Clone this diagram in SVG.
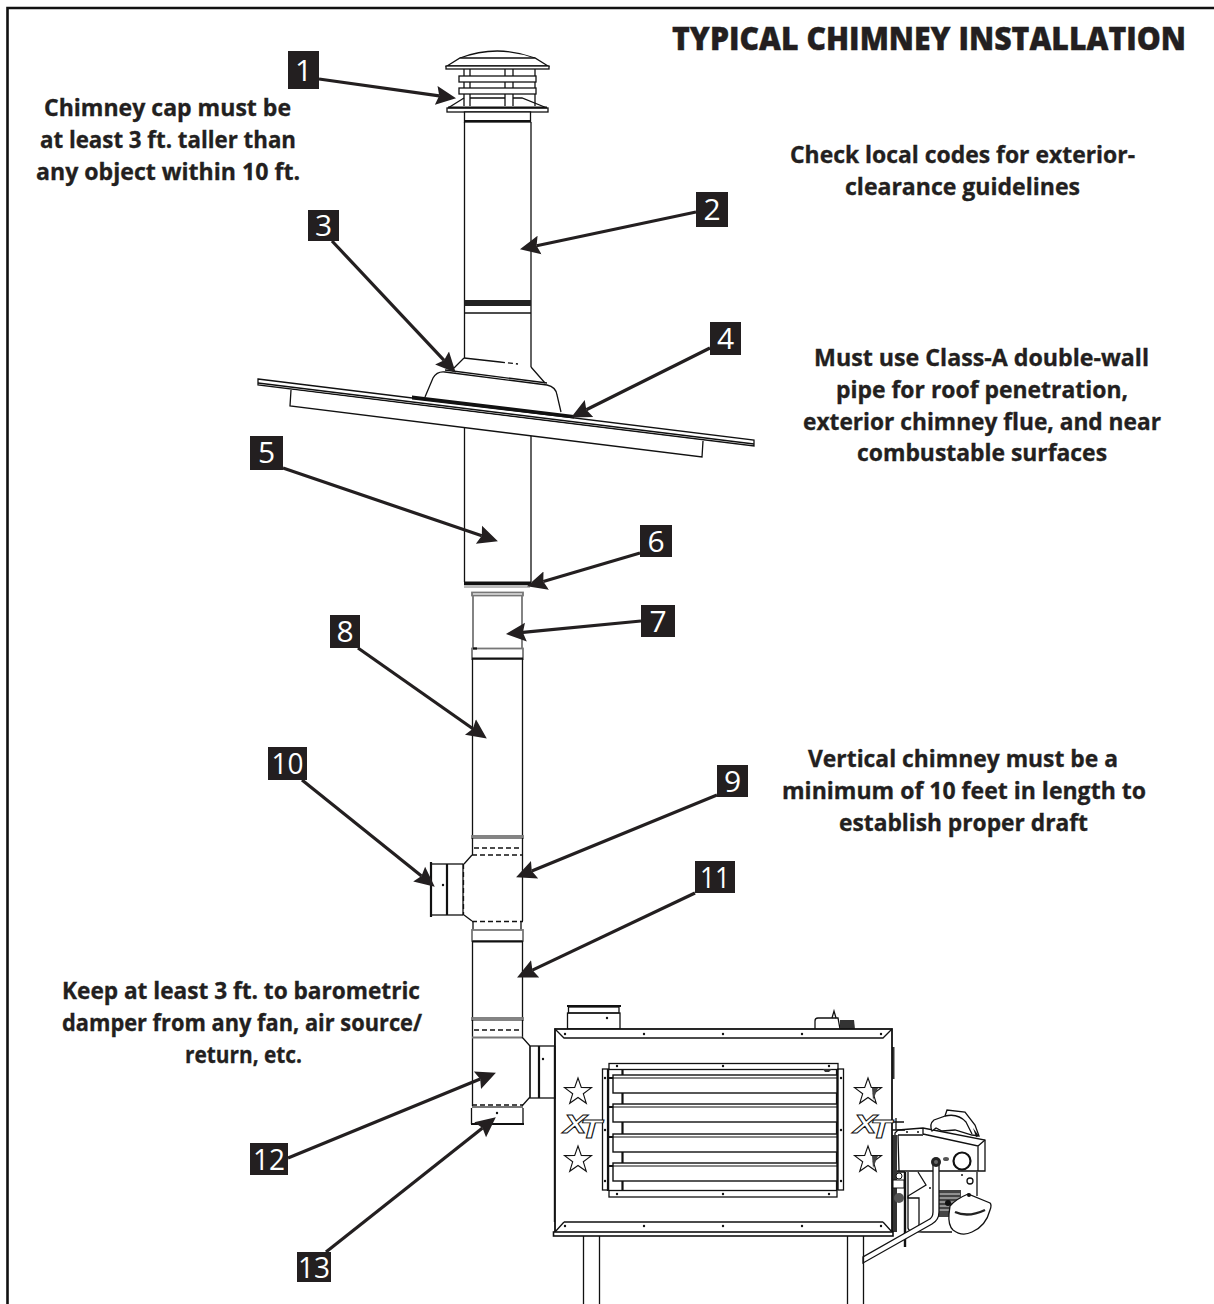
<svg xmlns="http://www.w3.org/2000/svg" width="1214" height="1304" viewBox="0 0 1214 1304">
<defs>
<marker id="ah" markerUnits="userSpaceOnUse" markerWidth="30" markerHeight="26" refX="3" refY="13" orient="auto">
<path d="M0,3.500 L20,13 L0,22.500 L3,13 Z" fill="#231f20"/>
</marker>
<polygon id="star" points="0,-14 3.3,-4.500 13.500,-4.400 5.300,1.700 8.300,11.300 0,5.500 -8.300,11.300 -5.300,1.700 -13.500,-4.400 -3.300,-4.500" fill="#fff" stroke="#111" stroke-width="1.100"/>
<g id="louver">
<rect x="613" y="0" width="224" height="18" fill="#fff" stroke="#111" stroke-width="1.400"/>
<line x1="613" y1="3" x2="837" y2="3" stroke="#111" stroke-width="1"/>
</g>
</defs>
<style>
.n{font-family:"Open Sans","Noto Sans",sans-serif;font-weight:700;font-size:23.500px;fill:#231f20;stroke:#231f20;stroke-width:.35px;}
.t{font-family:"Open Sans","Noto Sans",sans-serif;font-weight:800;font-size:31.500px;fill:#231f20;stroke:#231f20;stroke-width:.4px;}
.b{fill:#231f20;}
.bt{font-family:"Open Sans","Noto Sans",sans-serif;font-weight:400;font-size:30px;fill:#fff;text-anchor:middle;}
.a{stroke:#231f20;stroke-width:3.200;fill:none;marker-end:url(#ah);}
.l{fill:none;stroke:#111;stroke-width:1.300;}
.w{fill:#fff;stroke:#111;stroke-width:1.300;}
.th{fill:none;stroke:#111;stroke-width:2.200;}
.g{fill:none;stroke:#777;stroke-width:1.800;}
.d{fill:none;stroke:#111;stroke-width:1.300;stroke-dasharray:5 3;}
.dot{fill:#111;}
.xt{font-family:"Liberation Sans",sans-serif;font-weight:700;font-style:italic;font-size:26px;fill:#fff;stroke:#111;stroke-width:.9px;text-anchor:middle;letter-spacing:-5px;}
</style>
<rect width="1214" height="1304" fill="#fff"/>
<path d="M7.500,1304 V8 H1214" fill="none" stroke="#111" stroke-width="2.600"/>

<g id="title"><text class="t" x="672" y="50" textLength="514" lengthAdjust="spacingAndGlyphs">TYPICAL CHIMNEY INSTALLATION</text></g>
<g id="note-cap">
<text class="n" x="44" y="116" textLength="247" lengthAdjust="spacingAndGlyphs">Chimney cap must be</text>
<text class="n" x="40" y="148" textLength="256" lengthAdjust="spacingAndGlyphs">at least 3 ft. taller than</text>
<text class="n" x="36" y="180" textLength="264" lengthAdjust="spacingAndGlyphs">any object within 10 ft.</text>
</g>
<g id="note-codes">
<text class="n" x="790" y="163" textLength="345" lengthAdjust="spacingAndGlyphs">Check local codes for exterior-</text>
<text class="n" x="845" y="195" textLength="235" lengthAdjust="spacingAndGlyphs">clearance guidelines</text>
</g>
<g id="note-classa">
<text class="n" x="814" y="366" textLength="335" lengthAdjust="spacingAndGlyphs">Must use Class-A double-wall</text>
<text class="n" x="836" y="398" textLength="292" lengthAdjust="spacingAndGlyphs">pipe for roof penetration,</text>
<text class="n" x="803" y="430" textLength="358" lengthAdjust="spacingAndGlyphs">exterior chimney flue, and near</text>
<text class="n" x="857" y="461" textLength="250" lengthAdjust="spacingAndGlyphs">combustable surfaces</text>
</g>
<g id="note-vertical">
<text class="n" x="808" y="767" textLength="310" lengthAdjust="spacingAndGlyphs">Vertical chimney must be a</text>
<text class="n" x="782" y="799" textLength="364" lengthAdjust="spacingAndGlyphs">minimum of 10 feet in length to</text>
<text class="n" x="839" y="831" textLength="249" lengthAdjust="spacingAndGlyphs">establish proper draft</text>
</g>
<g id="note-damper">
<text class="n" x="62" y="999" textLength="358" lengthAdjust="spacingAndGlyphs">Keep at least 3 ft. to barometric</text>
<text class="n" x="62" y="1031" textLength="360" lengthAdjust="spacingAndGlyphs">damper from any fan, air source/</text>
<text class="n" x="185" y="1063" textLength="117" lengthAdjust="spacingAndGlyphs">return, etc.</text>
</g>

<g id="chimney-cap">
<path class="l" d="M460,58 Q497,44 535,58"/>
<path class="w" d="M460,58 H535 L548,66 H447 Z"/>
<rect class="w" x="446" y="66" width="103" height="3"/>
<path class="l" d="M464,69 V106 M470,69 V106 M505,69 V106 M513,69 V106 M535,69 V106"/>
<path class="l" d="M470,98 H505 M513,98 H522 L547,108 M464,98 L448,108"/>
<rect class="w" x="459" y="76" width="77" height="6"/>
<rect class="w" x="459" y="88" width="77" height="6"/>
<rect class="w" x="447" y="108" width="101" height="4"/>
<path class="th" d="M448,107.500 H547"/>
<rect class="w" x="464.500" y="112" width="66" height="10"/>
<path class="th" d="M465,121 H530"/>
</g>

<g id="chimney-upper">
<path class="l" d="M464.500,122 V358 M531,122 V367"/>
<rect x="464.500" y="300" width="66.500" height="6" fill="#222"/>
<path class="l" d="M464.500,313 H531"/>
<path class="l" d="M464,358 L454,368 M531,367 L545,383"/>
<path class="l" d="M464,358 L500,362"/>
<path class="d" d="M500,362 L518,364"/>
</g>

<g id="roof">
<path class="l" d="M425,397 L433,378 Q437,371 445,372 L547,385 Q556,387 557,395 L561,412"/>
<path class="l" d="M445,370 L547,383"/>
<path class="w" d="M258,379 L754,440 L754,446 L258,385 Z"/>
<path class="l" d="M258,383 L754,444"/>
<path class="w" d="M291,390 L290,406 L702,457 L703,441"/>
<path d="M412,395.500 L574,415 L574,418.500 L412,399.500 Z" fill="#111"/>
</g>

<g id="chimney-lower">
<path class="l" d="M464.500,428 V582 M531,436 V582"/>
<rect x="464" y="581.500" width="67" height="3.500" fill="#111"/>
<rect x="464" y="585" width="66" height="3" fill="#555" opacity=".4"/>
<rect class="g" x="472" y="592.500" width="51" height="3"/>
<path class="g" d="M473,595 V648 M522,595 V648"/>
<rect class="g" x="472" y="648.500" width="51" height="10.500"/>
<path class="th" d="M472,658.500 H523"/>
<path d="M473,648.500 H477" class="th"/>
<path class="l" d="M472.500,659 V836 M522.500,659 V836"/>
</g>

<g id="tee-upper">
<rect class="g" x="472" y="836" width="51" height="2"/>
<path class="l" d="M472.500,838 V855 M522.500,838 V921"/>
<path class="d" d="M474,848 H521" stroke-dasharray="3 4"/>
<path class="d" d="M472,855 H523" stroke-width="1.800" stroke-dasharray="10 2"/>
<path class="l" d="M472,855 L464,864 M464,915 L472,921"/>
<path class="d" d="M463.500,864 V915"/>
<path class="d" d="M472,921.500 H523" stroke-dasharray="14 3"/>
<path class="l" d="M473,921 V930 M521,921 V930"/>
<rect class="l" x="431" y="864" width="32" height="51"/>
<path class="th" d="M431,862 V917 M447,864 V915"/>
<circle class="dot" cx="443" cy="885" r="1.200"/>
<rect class="g" x="472" y="930" width="51" height="11"/>
<path class="th" d="M472,941.500 H523"/>
<path class="l" d="M472.500,942 V1018 M522.500,942 V1018"/>
</g>

<g id="tee-lower">
<rect class="g" x="472" y="1018" width="51" height="2"/>
<path class="l" d="M472.500,1020 V1106 M522.500,1020 V1037"/>
<path class="d" d="M474,1030 H521" stroke-dasharray="3 3"/>
<path class="g" d="M472,1037.500 H523"/>
<path class="l" d="M522,1037 L530,1046 M530,1097 L522,1106"/>
<path class="g" d="M530,1046 V1097" stroke-width="2"/>
<rect class="l" x="530" y="1046" width="25" height="52"/>
<path class="th" d="M539,1046 V1098"/>
<circle class="dot" cx="543" cy="1059" r="1.200"/>
<path class="d" d="M472,1105 H523" stroke-dasharray="10 2"/>
<path class="g" d="M472,1107 H523"/>
<path class="l" d="M471.500,1108 V1124 M523,1108 V1124"/>
<path class="th" d="M471,1124 H524"/>
<circle class="dot" cx="497" cy="1113" r="1.200"/>
</g>

<g id="burner">
<path class="l" d="M908,1172 V1228 Q908,1232 922,1232 H952 M977,1172 V1196"/>
<circle class="l" cx="970" cy="1181" r="3"/>
<path class="l" d="M897,1172 H905 M918,1172 L926,1185 L908,1196 V1198 H919 V1226"/>
<rect x="937" y="1190" width="24" height="27" fill="#444"/>
<path d="M938,1194 H960 M938,1198 H960 M938,1202 H960 M938,1206 H960 M938,1210 H960" stroke="#ddd" stroke-width="1"/>
<circle cx="948" cy="1203" r="3" fill="#111"/>
<path class="w" d="M898,1130 L923,1128 L985,1140 V1171 H895 V1133 Z"/>
<path class="l" d="M923,1134 L978,1146 L985,1140 M978,1146 V1171 M923,1128 V1134 M898,1135 H923 M898,1135 L899,1171"/>
<path class="w" d="M932,1131 Q929,1124 934,1120 L945,1116 L947,1110 L965,1112 L975,1125 L979,1136 L972,1135 L955,1130 L942,1131 L936,1128 Z"/>
<path class="l" d="M945,1116 Q958,1113 966,1122 L972,1134"/>
<path d="M973,1128 L979,1136 L976,1137 Z" fill="#111"/>
<circle class="dot" cx="907" cy="1132" r="1"/><circle class="dot" cx="918" cy="1132" r="1"/>
<circle class="th" cx="962" cy="1161" r="8.500"/>
<ellipse cx="946" cy="1159" rx="3" ry="2" fill="#555"/>
<circle class="dot" cx="962" cy="1175" r="1"/>
<circle class="dot" cx="930" cy="1188" r="1"/>
<path d="M905,1172 V1247" stroke="#111" stroke-width="2.400" fill="none"/>
<path class="w" d="M933,1163 V1212 Q933,1218 928,1220 L863,1257 V1263 L932,1224 Q939,1220 939,1212 V1163 Z"/>
<circle cx="936" cy="1162" r="5" fill="#222"/>
<circle cx="936" cy="1162" r="2" fill="#666"/>
<path d="M892,1135 H897 V1232 H892 Z" fill="#333"/>
<rect x="893" y="1180" width="11" height="8" fill="#fff" stroke="#111"/>
<circle cx="899" cy="1176" r="3" fill="#fff" stroke="#111"/>
<circle cx="899" cy="1198" r="5" fill="#555"/>
<path class="l" d="M896,1118 V1130 M893,1122 H904 M892,1130 H905"/>
<path class="w" d="M950,1206 Q956,1199 968,1194 L990,1203 Q992,1205 990,1210 Q986,1226 972,1232 Q962,1237 953,1230 Q948,1225 949,1214 Z"/>
<path d="M955,1212 Q968,1218 985,1210" fill="none" stroke="#222" stroke-width="2.400"/>
<circle cx="969" cy="1195" r="2" fill="#111"/>
</g>

<g id="furnace">
<rect class="w" x="567.500" y="1013" width="52.500" height="16"/>
<rect class="l" x="568.500" y="1007" width="50.500" height="6"/>
<path class="th" d="M567,1006 H621"/>
<circle class="dot" cx="607" cy="1018" r="1.200"/>
<path class="w" d="M815,1029 V1021 Q815,1018 818,1018 H838 L840,1029"/>
<path d="M840,1020 H854 L855,1029 H840 Z" fill="#333"/>
<path class="l" d="M832,1018 L834,1011 L836,1018"/>
<path d="M892,1047 H894.500 V1079 H892 Z" fill="#333"/>
<path d="M555,1030 H556 V1222 H553.800 V1048 Z" fill="#222"/>
<rect x="555" y="1029" width="337" height="206" fill="#fff" stroke="#111" stroke-width="1.800"/>
<path class="l" d="M555,1029 L564,1038 H883 L892,1029"/>
<path class="l" d="M564,1222 H883 M564,1222 L555,1232 M883,1222 L892,1232"/>
<rect x="553.500" y="1232" width="339.500" height="4" fill="#fff" stroke="#111" stroke-width="1.600"/>
<path class="l" d="M583.500,1236 V1304 M599.500,1236 V1304 M847.500,1236 V1304 M863.500,1236 V1304"/>
<path class="l" d="M555,1099 V1046"/>
<g class="dot">
<circle cx="565" cy="1034" r="1.200"/><circle cx="644" cy="1034" r="1.200"/><circle cx="723" cy="1034" r="1.200"/><circle cx="802" cy="1034" r="1.200"/><circle cx="881" cy="1034" r="1.200"/>
<circle cx="565" cy="1226" r="1.200"/><circle cx="644" cy="1226" r="1.200"/><circle cx="723" cy="1226" r="1.200"/><circle cx="802" cy="1226" r="1.200"/><circle cx="881" cy="1226" r="1.200"/>
</g>
<rect class="l" x="609" y="1063.500" width="229" height="6"/>
<rect class="l" x="609" y="1190.500" width="228" height="6.500"/>
<rect class="l" x="602.500" y="1069" width="6" height="121"/>
<rect class="l" x="838" y="1069" width="5.500" height="121"/>
<path class="th" d="M608,1069 V1191 M622.500,1069 V1190 M837,1069 V1190"/>
<use href="#louver" y="1075"/><use href="#louver" y="1104"/><use href="#louver" y="1134"/><use href="#louver" y="1163"/>
<path d="M609,1078 H613 M609,1107 H613 M609,1137 H613 M609,1166 H613" class="th"/>
<path d="M823,1069 L832,1069 L829,1072 H825 Z" fill="#333"/>
<g class="dot">
<circle cx="617" cy="1066" r="1.200"/><circle cx="723" cy="1066" r="1.200"/><circle cx="829" cy="1066" r="1.200"/>
<circle cx="617" cy="1194" r="1.200"/><circle cx="723" cy="1194" r="1.200"/><circle cx="829" cy="1194" r="1.200"/>
<circle cx="605" cy="1078" r="1.200"/><circle cx="605" cy="1130" r="1.200"/><circle cx="605" cy="1181" r="1.200"/>
<circle cx="841" cy="1078" r="1.200"/><circle cx="841" cy="1130" r="1.200"/><circle cx="841" cy="1181" r="1.200"/>
</g>
<use href="#star" x="578" y="1092"/><use href="#star" x="578" y="1160"/>
<use href="#star" x="868" y="1092"/><use href="#star" x="868" y="1160"/>
<path d="M872,1088 H878 L873,1100 Z M872,1156 H878 L873,1168 Z" fill="#444"/>
<text class="xt" transform="translate(579,1133) scale(1.350,1)">X<tspan dy="5">T</tspan></text>
<text class="xt" transform="translate(869,1133) scale(1.350,1)">X<tspan dy="5">T</tspan></text>
</g>

<g id="connectors">
<line class="a" x1="319" y1="79" x2="439.200" y2="95.800"/>
<line class="a" x1="696" y1="212" x2="536.600" y2="245.700"/>
<line class="a" x1="332" y1="241" x2="444.100" y2="360.300"/>
<line class="a" x1="710" y1="348" x2="586.300" y2="409.800"/>
<line class="a" x1="283" y1="468" x2="481.800" y2="535.800"/>
<line class="a" x1="640" y1="553" x2="543.300" y2="581.500"/>
<line class="a" x1="641" y1="621" x2="522.900" y2="632.400"/>
<line class="a" x1="358" y1="648" x2="472.900" y2="728.800"/>
<line class="a" x1="717" y1="795" x2="531.800" y2="870.900"/>
<line class="a" x1="302" y1="780" x2="421.500" y2="876"/>
<line class="a" x1="695" y1="893" x2="532.400" y2="970.100"/>
<line class="a" x1="288" y1="1158" x2="480.200" y2="1079.100"/>
<line class="a" x1="326" y1="1252" x2="482.500" y2="1127.900"/>
</g>

<g id="badge-1"><rect class="b" x="288" y="51" width="31" height="38"/><text class="bt" x="303.500" y="81">1</text></g>
<g id="badge-2"><rect class="b" x="696" y="192" width="32" height="35"/><text class="bt" x="712" y="220">2</text></g>
<g id="badge-3"><rect class="b" x="308" y="210" width="31" height="31"/><text class="bt" x="323.500" y="236">3</text></g>
<g id="badge-4"><rect class="b" x="710" y="322" width="31" height="33"/><text class="bt" x="725.500" y="349">4</text></g>
<g id="badge-5"><rect class="b" x="250" y="436" width="33" height="34"/><text class="bt" x="266.500" y="463">5</text></g>
<g id="badge-6"><rect class="b" x="640" y="525" width="32" height="32"/><text class="bt" x="656" y="552">6</text></g>
<g id="badge-7"><rect class="b" x="641" y="605" width="34" height="32"/><text class="bt" x="658" y="632">7</text></g>
<g id="badge-8"><rect class="b" x="330" y="615" width="30" height="33"/><text class="bt" x="345" y="642">8</text></g>
<g id="badge-9"><rect class="b" x="717" y="765" width="31" height="32"/><text class="bt" x="732.500" y="792">9</text></g>
<g id="badge-10"><rect class="b" x="268" y="747" width="39" height="33"/><text class="bt" x="287.500" y="774" textLength="32" lengthAdjust="spacingAndGlyphs">10</text></g>
<g id="badge-11"><rect class="b" x="695" y="861" width="40" height="32"/><text class="bt" x="715" y="888" textLength="30" lengthAdjust="spacingAndGlyphs">11</text></g>
<g id="badge-12"><rect class="b" x="250" y="1143" width="38" height="32"/><text class="bt" x="269" y="1170" textLength="32" lengthAdjust="spacingAndGlyphs">12</text></g>
<g id="badge-13"><rect class="b" x="297" y="1252" width="34" height="30"/><text class="bt" x="314" y="1278" textLength="32" lengthAdjust="spacingAndGlyphs">13</text></g>
</svg>
